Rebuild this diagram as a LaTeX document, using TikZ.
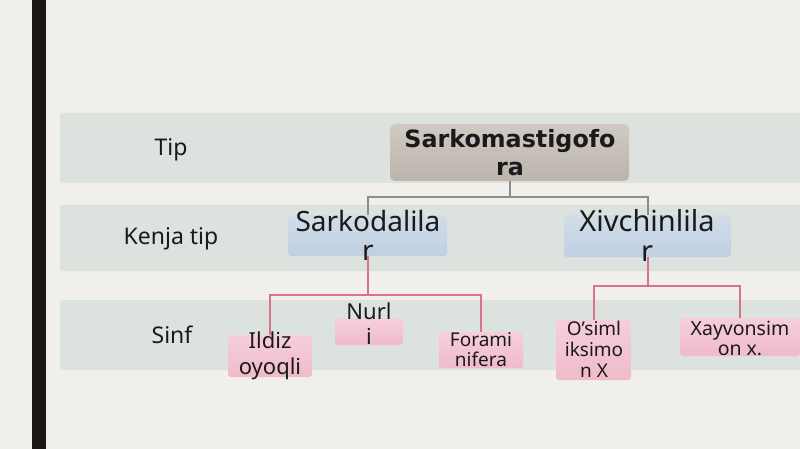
\documentclass[tikz,border=0pt]{standalone}
\usepackage{fontspec}
\setmainfont{Noto Sans}
\newfontfamily\rootfont{DejaVu Sans}
\definecolor{bgc}{HTML}{F1EFEA}
\definecolor{barc}{HTML}{1B1814}
\definecolor{bandc}{HTML}{DCE3DF}
\definecolor{roottop}{HTML}{D0CAC3}
\definecolor{rootbot}{HTML}{BCB4AB}
\definecolor{bluetop}{HTML}{D2DDE9}
\definecolor{bluebot}{HTML}{BFCFE1}
\definecolor{pinktop}{HTML}{F6CFDA}
\definecolor{pinkbot}{HTML}{F0BACA}
\definecolor{pinkln}{HTML}{D8738E}
\definecolor{grayln}{HTML}{869092}
\definecolor{txtc}{HTML}{1A1A1A}
\begin{document}
\begin{tikzpicture}[x=1pt,y=-1pt,
  band/.style={fill=bandc,draw=none,rounded corners=3pt},
  boxbase/.style={draw=none,inner sep=0pt,rounded corners=3pt},
  rootbox/.style={boxbase,top color=roottop,bottom color=rootbot,rounded corners=5pt},
  bluebox/.style={boxbase,top color=bluetop,bottom color=bluebot},
  pinkbox/.style={boxbase,top color=pinktop,bottom color=pinkbot},
  lbl/.style={text=txtc,font=\fontsize{23}{27}\selectfont,inner sep=0pt},
  txt/.style={text=txtc,align=center,inner sep=0pt},
  grayline/.style={draw=grayln,line width=2pt},
  pinkline/.style={draw=pinkln,line width=2pt}]
\fill[bgc] (0,0) rectangle (800,449);
\useasboundingbox (0,0) rectangle (800,449);
\fill[barc] (32,-5) rectangle (46,455);
% bands
\fill[band] (60,113) rectangle (805,183);
\fill[band] (60,205) rectangle (805,271);
\fill[band] (60,300) rectangle (805,370);
% row labels
\node[lbl] (ltip) at (171,150) {Tip};
\node[lbl] (lkenja) at (171,239) {Kenja tip};
\node[lbl] (lsinf) at (172,335) {Sinf};
% boxes
\node[rootbox,minimum width=239pt,minimum height=57pt] (root) at (509.5,152.5) {};
\node[bluebox,minimum width=159pt,minimum height=41pt] (sark) at (367.5,235.5) {};
\node[bluebox,minimum width=167pt,minimum height=42pt] (xiv) at (647.5,236) {};
\node[pinkbox,minimum width=84pt,minimum height=42pt] (ildiz) at (270,356) {};
\node[pinkbox,minimum width=68pt,minimum height=27pt] (nurli) at (369,331.5) {};
\node[pinkbox,minimum width=84pt,minimum height=36pt] (forami) at (481,350) {};
\node[pinkbox,minimum width=75pt,minimum height=60pt] (osim) at (593.5,350) {};
\node[pinkbox,minimum width=120pt,minimum height=38pt] (xay) at (740,337) {};
% connectors
\draw[grayline] (root.south) -- ++(0,16) coordinate (j0);
\draw[grayline] (sark.north) |- (j0) -| (xiv.north);
\draw[pinkline] (sark.south) -- ++(0,39) coordinate (j1);
\draw[pinkline] (ildiz.north) |- (j1) -| (forami.north);
\draw[pinkline] (xiv.south) -- ++(0,29) coordinate (j2);
\draw[pinkline] (osim.north) |- (j2) -| (xay.north);
% texts
\node[txt,font=\rootfont\bfseries\fontsize{23.8}{28}\selectfont] (troot) at (510,152.5) {Sarkomastigofo\\ra};
\node[txt,font=\fontsize{28}{29}\selectfont] (tsark) at (368,235) {Sarkodalila\\r};
\node[txt,font=\fontsize{29}{30}\selectfont] (txiv) at (647,235) {Xivchinlila\\r};
\node[txt,font=\fontsize{22}{26}\selectfont] (tildiz) at (270,356) {Ildiz\\oyoqli};
\node[txt,font=\fontsize{22}{25}\selectfont] (tnurli) at (369,324) {Nurl\\i};
\node[txt,font=\fontsize{19}{20}\selectfont] (tforami) at (481,350) {Forami\\nifera};
\node[txt,font=\fontsize{19}{21}\selectfont] (tosim) at (594,349) {O’siml\\iksimo\\n X};
\node[txt,font=\fontsize{19.5}{20}\selectfont] (txay) at (740,338) {Xayvonsim\\on x.};
\end{tikzpicture}
\end{document}
